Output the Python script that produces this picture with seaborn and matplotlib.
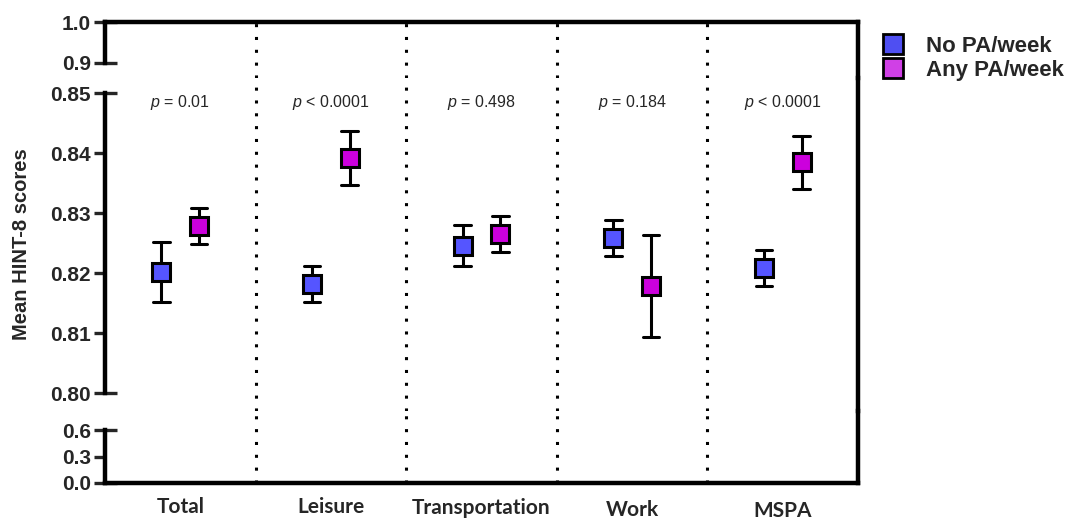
import numpy as np
import pandas as pd
import matplotlib
matplotlib.use("Agg")
import matplotlib.pyplot as plt
import matplotlib.transforms as mtransforms
from matplotlib.lines import Line2D
import seaborn as sns

# %% data
categories = ["Total", "Leisure", "Transportation", "Work", "MSPA"]
groups = ["No PA/week", "Any PA/week"]
no_pa_mean = [0.8202, 0.8182, 0.8245, 0.8259, 0.8209]
no_pa_low = [0.8151, 0.8151, 0.8211, 0.8228, 0.8179]
no_pa_high = [0.8252, 0.8212, 0.8280, 0.8288, 0.8238]
any_pa_mean = [0.8278, 0.8391, 0.8265, 0.8179, 0.8385]
any_pa_low = [0.8248, 0.8347, 0.8235, 0.8094, 0.8340]
any_pa_high = [0.8308, 0.8436, 0.8295, 0.8263, 0.8428]
p_signs = ["=", "<", "=", "=", "<"]
p_values = ["0.01", "0.0001", "0.498", "0.184", "0.0001"]

top_ticks = [0.9, 1.0]
mid_ticks = [0.80, 0.81, 0.82, 0.83, 0.84, 0.85]
bot_ticks = [0.0, 0.3, 0.6]

# %% long table: low / mean / high per cell, median + full range gives point and bar
rows = []
for g, (m, lo, hi) in zip(groups, [(no_pa_mean, no_pa_low, no_pa_high),
                                   (any_pa_mean, any_pa_low, any_pa_high)]):
    for i, c in enumerate(categories):
        for v in (lo[i], m[i], hi[i]):
            rows.append({"domain": c, "group": g, "score": v})
df = pd.DataFrame(rows)

# %%
sns.set_style("white")
plt.rcParams["font.family"] = ["Liberation Sans", "DejaVu Sans"]
plt.rcParams["mathtext.fontset"] = "custom"
plt.rcParams["mathtext.it"] = "Liberation Sans:italic"
plt.rcParams["mathtext.rm"] = "Liberation Sans"

W, H = 1075, 524
fig = plt.figure(figsize=(W / 100, H / 100), dpi=100)

left, width = 105 / W, 753 / W
ax_top = fig.add_axes([left, 1 - 78 / H, width, 56 / H])
ax_mid = fig.add_axes([left, 1 - 411 / H, width, 333 / H])
ax_bot = fig.add_axes([left, 1 - 483 / H, width, 72 / H])

colors = {"No PA/week": "#5555FF", "Any PA/week": "#CC00DD"}

sns.pointplot(data=df, x="domain", y="score", hue="group", order=categories,
              hue_order=groups, palette=colors, estimator="median",
              errorbar=("pi", 100), dodge=0.25, markers="s", linestyles="none",
              capsize=0.11, markersize=13.5, markeredgewidth=2.2,
              markeredgecolor="black", zorder=3,
              err_kws={"color": "black", "linewidth": 2.2, "zorder": 2},
              legend=False, ax=ax_mid)

lw = 3.2
for ax, lims, ticks, labels in [
        (ax_top, (0.8634, 1.0), top_ticks, ["0.9", "1.0"]),
        (ax_mid, (0.797, 0.8525), mid_ticks, ["0.80", "0.81", "0.82", "0.83", "0.84", "0.85"]),
        (ax_bot, (0.0, 0.8151), bot_ticks, ["0.0", "0.3", "0.6"])]:
    ax.set_xlim(-0.5, 4.5)
    ax.set_ylim(*lims)
    ax.set_facecolor("none")
    ax.set_yticks(ticks)
    ax.set_yticklabels(labels, fontsize=15, fontweight="bold")
    # end caps of each axis piece poke into the plot
    ax.yaxis.remove_overlapping_locs = False
    ax.set_yticks([ticks[0], ticks[-1]], minor=True)
    ax.tick_params(axis="y", which="major", direction="out", length=8, width=2.4,
                   pad=2, left=True)
    ax.tick_params(axis="y", which="minor", direction="in", length=8.5, width=2.4,
                   left=True)
    for s in ["right", "top", "bottom"]:
        ax.spines[s].set_linewidth(lw)
        ax.spines[s].set_color("black")
    ax.spines["left"].set_visible(False)
    # broken left axis: one solid piece per panel
    ax.plot([0, 0], [ticks[0], ticks[-1]], color="black", linewidth=lw,
            transform=ax.get_yaxis_transform(), clip_on=False,
            solid_capstyle="projecting", zorder=5)
    ax.spines["top"].set_visible(ax is ax_top)
    ax.spines["bottom"].set_visible(ax is ax_bot)
    for xv in [0.5, 1.5, 2.5, 3.5]:
        ax.axvline(xv, color="black", linestyle=(0, (1, 3.2)), linewidth=2.2, zorder=1)
    ax.set_xlabel("")
    ax.set_ylabel("")
    if ax is not ax_bot:
        ax.set_xticks([])

ax_bot.set_xticks(range(len(categories)))
ax_bot.set_xticklabels(categories, fontsize=15, fontweight="bold", family=["Lato", "DejaVu Sans"])
ax_bot.tick_params(axis="x", length=0, pad=10)
for lab, dy in zip(ax_bot.get_xticklabels(), [0, 0, 1, 2, 3]):
    lab.set_transform(lab.get_transform() +
                      mtransforms.ScaledTranslation(0, -dy / 72, fig.dpi_scale_trans))

ax_mid.set_ylabel("Mean HINT-8 scores", fontsize=14.5, fontweight="bold")
ax_mid.yaxis.set_label_coords(-0.098, 0.5)

for i, (sgn, pv) in enumerate(zip(p_signs, p_values)):
    ax_mid.text(i, 0.8485, r"$p$ " + sgn + " " + pv, ha="center", va="center",
                fontsize=11.5)

handles = [Line2D([], [], marker="s", linestyle="none", markersize=14,
                  markerfacecolor=c, markeredgecolor="black", markeredgewidth=2)
           for c in ["#4F4FF2", "#D040E6"]]
fig.legend(handles, groups, loc="upper left", bbox_to_anchor=(882 / W, 1 - 36 / H),
           frameon=False, handlelength=1.0, handletextpad=1.0, labelspacing=0.12,
           borderaxespad=0, borderpad=0, prop={"size": 16, "weight": "bold"})

fig.savefig("out.png", dpi=100)
